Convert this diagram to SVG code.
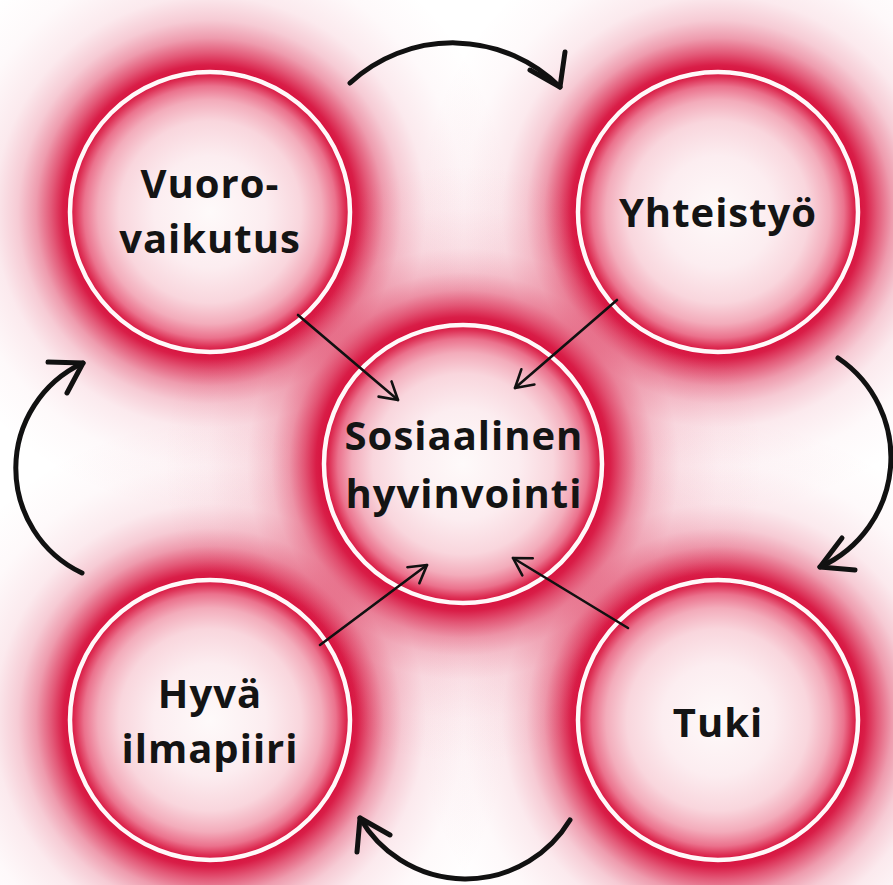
<svg xmlns="http://www.w3.org/2000/svg" width="893" height="885" viewBox="0 0 893 885">
  <defs>
    <!-- soft crimson halo around each ring -->
    <radialGradient id="halo">
      <stop offset="0" stop-color="#d7123e" stop-opacity="1"/>
      <stop offset="0.467" stop-color="#d7123e" stop-opacity="1"/>
      <stop offset="0.49" stop-color="#d7123e" stop-opacity="0.95"/>
      <stop offset="0.53" stop-color="#d7123e" stop-opacity="0.7"/>
      <stop offset="0.58" stop-color="#d7123e" stop-opacity="0.42"/>
      <stop offset="0.64" stop-color="#d7123e" stop-opacity="0.22"/>
      <stop offset="0.72" stop-color="#d7123e" stop-opacity="0.09"/>
      <stop offset="0.85" stop-color="#d7123e" stop-opacity="0.025"/>
      <stop offset="1" stop-color="#d7123e" stop-opacity="0"/>
    </radialGradient>
    <!-- disk interior: white core fading to red at the rim -->
    <radialGradient id="core">
      <stop offset="0" stop-color="#fefafa"/>
      <stop offset="0.4" stop-color="#fcedf0"/>
      <stop offset="0.65" stop-color="#f9d6dd"/>
      <stop offset="0.8" stop-color="#f3acbb"/>
      <stop offset="0.9" stop-color="#eb728d"/>
      <stop offset="0.96" stop-color="#de3257"/>
      <stop offset="1" stop-color="#d6103c"/>
    </radialGradient>
    <marker id="tip-thin" markerUnits="userSpaceOnUse" viewBox="-30 -20 40 40" markerWidth="40" markerHeight="40" refX="0" refY="0" orient="auto" overflow="visible">
      <path d="M-17,-10 L0,0 L-17,10" fill="none" stroke="#111" stroke-width="2.6" stroke-linecap="round" stroke-linejoin="round"/>
    </marker>
  </defs>
  <style>
    .halo { fill: url(#halo); }
    .core { fill: url(#core); }
    .ring { fill: none; stroke: #fff8f9; stroke-width: 4.5; }
    .label { font-family: "Open Sans", "DejaVu Sans", sans-serif; font-weight: 700; font-size: 40px; letter-spacing: 1px; fill: #141414; text-anchor: middle; }
    .link { fill: none; stroke: #111; stroke-width: 2.6; stroke-linecap: round; marker-end: url(#tip-thin); }
    .cycle { fill: none; stroke: #111; stroke-width: 5; stroke-linecap: round; stroke-linejoin: round; }
  </style>

  <rect width="893" height="885" fill="#ffffff"/>

  <!-- halos, painted beneath all disks -->
  <g id="halos">
    <circle class="halo" cx="210" cy="212" r="300"/>
    <circle class="halo" cx="718" cy="212" r="300"/>
    <circle class="halo" cx="210" cy="720" r="300"/>
    <circle class="halo" cx="718" cy="720" r="300"/>
    <circle class="halo" cx="463" cy="464" r="300"/>
  </g>

  <g id="node-vuorovaikutus">
    <circle class="core" cx="210" cy="212" r="140"/>
    <circle class="ring" cx="210" cy="212" r="140"/>
    <text class="label" x="210" y="198">Vuoro-</text>
    <text class="label" x="210" y="253">vaikutus</text>
  </g>

  <g id="node-yhteistyo">
    <circle class="core" cx="718" cy="212" r="140"/>
    <circle class="ring" cx="718" cy="212" r="140"/>
    <text class="label" x="718" y="227">Yhteistyö</text>
  </g>

  <g id="node-hyva-ilmapiiri">
    <circle class="core" cx="210" cy="720" r="140"/>
    <circle class="ring" cx="210" cy="720" r="140"/>
    <text class="label" x="210" y="708">Hyvä</text>
    <text class="label" x="210" y="763">ilmapiiri</text>
  </g>

  <g id="node-tuki">
    <circle class="core" cx="718" cy="720" r="140"/>
    <circle class="ring" cx="718" cy="720" r="140"/>
    <text class="label" x="718" y="737">Tuki</text>
  </g>

  <g id="node-sosiaalinen-hyvinvointi">
    <circle class="core" cx="463" cy="464" r="139"/>
    <circle class="ring" cx="463" cy="464" r="139"/>
    <text class="label" x="464" y="450">Sosiaalinen</text>
    <text class="label" x="464" y="508">hyvinvointi</text>
  </g>

  <g id="connectors">
    <!-- spokes into the centre -->
    <path class="link" d="M298,315 L398,400"/>
    <path class="link" d="M617,300 L515,388"/>
    <path class="link" d="M320,645 L427,565"/>
    <path class="link" d="M628,628 L513,558"/>
    <!-- clockwise cycle around the outer nodes, each with an open head -->
    <path class="cycle" d="M350,83 A152 152 0 0 1 560,87"/>
    <path class="cycle" d="M530,70 L560,87 L565,52"/>
    <path class="cycle" d="M838,358 A120 120 0 0 1 820,567"/>
    <path class="cycle" d="M842,538 L820,567 L855,570"/>
    <path class="cycle" d="M570,820 A122 122 0 0 1 360,818"/>
    <path class="cycle" d="M390,835 L360,818 L357,852"/>
    <path class="cycle" d="M82,573 A116 116 0 0 1 83,363"/>
    <path class="cycle" d="M67,393 L83,363 L48,362"/>
  </g>
</svg>
